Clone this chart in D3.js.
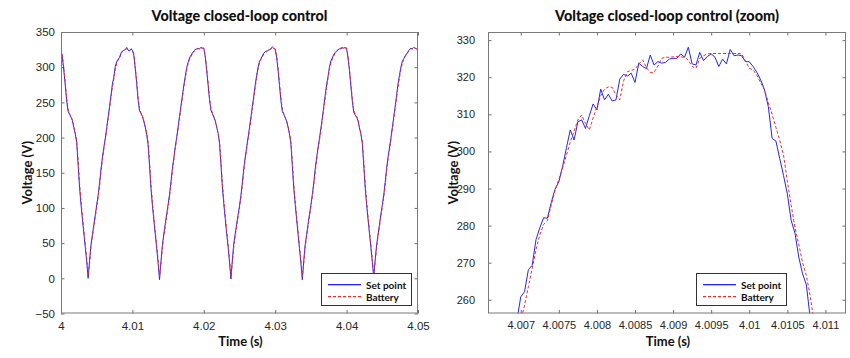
<!DOCTYPE html>
<html><head><meta charset="utf-8">
<script src="https://cdn.jsdelivr.net/npm/d3@7"></script>
<style>
html,body{margin:0;padding:0;background:#fff;}
svg{display:block;}
.tick text{font-family:"Liberation Sans",Arial,sans-serif;fill:#262626;}
.tick line{stroke:#6e6e6e;}
</style></head>
<body><svg id="c" width="850" height="358"></svg>
<script>
// ---------------- DATA ----------------
// Left chart: 4.000 s .. 4.050 s, one sample every 0.2 ms
const leftStart = 4.000, leftStep = 0.0002;
const leftSetPoint = [
 325,313,295,274,252,237,233,229,224,214,205,193,161,129,105,84,64,44,24,0,
 25,48,62,76,90,104,118,135,155,172,186,199,214,229,244,260,276,286,301,308,311,314,320,323,324,325,328,324,323,326,
 324,317,298,277,253,238,234,230,223,215,204,190,160,128,104,83,63,43,22,-2,
 24,47,63,77,91,105,119,137,156,171,187,200,215,230,245,259,274,287,299,307,313,317,320,323,325,326,327,326,328,327,
 327,315,296,275,254,239,234,229,224,215,206,192,162,130,106,85,64,45,23,-1,
 26,49,63,77,90,103,118,136,156,172,186,200,214,229,244,259,275,288,300,308,312,316,320,322,322,324,325,326,329,327,
 325,314,296,274,253,237,233,228,223,215,205,191,160,128,105,84,63,42,22,-2,
 25,48,62,77,91,104,119,136,155,171,186,199,213,228,244,260,275,287,300,309,313,318,321,323,325,326,327,328,327,328,
 327,313,295,273,252,236,232,229,224,214,205,192,161,129,105,84,64,44,23,2,
 26,47,62,76,91,104,118,136,156,172,185,199,214,229,244,260,276,288,300,308,312,316,319,322,325,327,326,328,327,326,
 328
];
const leftBattery = [
 326,316,298,278,256,240,234,230,225,216,207,196,167,135,110,88,68,48,28,4,
 21,44,59,73,87,101,115,131,151,168,183,196,211,226,241,256,272,283,297,305,310,313,318,322,324,325,326,325,324,326,
 325,319,301,280,257,241,235,231,224,216,206,194,166,134,109,87,67,47,27,2,
 20,43,60,74,88,102,116,133,152,168,184,197,212,227,242,256,271,284,296,305,311,315,319,322,324,326,326,326,327,327,
 327,318,299,279,257,242,235,230,225,216,207,195,167,136,110,89,68,49,27,3,
 22,45,60,74,87,100,115,132,152,169,183,197,211,226,241,256,271,285,297,306,311,314,319,322,323,324,325,326,327,327,
 326,317,299,278,256,240,234,229,224,216,206,194,166,134,110,88,67,46,26,2,
 21,44,59,74,88,101,116,132,151,168,183,196,210,225,241,256,271,284,297,306,311,316,320,322,324,326,326,327,327,327,
 327,316,298,277,255,239,233,230,225,215,206,195,167,135,110,88,68,48,27,5,
 22,43,59,73,88,101,115,132,152,169,182,196,211,226,241,256,272,285,297,305,311,315,318,321,324,326,326,327,327,326,
 327
];
// Right chart (zoom): 4.0069 s .. 4.01085 s, one sample every 0.05 ms
const zoomStart = 4.0069, zoomStep = 0.00005;
const zoomSetPoint = [
 249,254.5,260.8,262.2,268.1,269.3,276.2,279.4,282.1,282.0,
 286.2,289.8,291.8,296.0,301.0,305.8,303.1,308.0,308.5,306.2,
 309.6,312.8,311.2,316.8,313.9,315.4,313.6,313.9,319.5,320.8,
 320.3,321.1,318.6,323.8,322.9,322.3,326.0,323.3,324.2,323.8,
 324.0,324.9,325.1,325.1,326.3,325.4,328.1,323.6,323.3,326.7,
 324.5,325.6,326.3,325.4,322.9,324.9,323.6,327.5,325.8,326.0,
 325.8,324.2,324.2,322.9,321.3,319.3,316.6,312.1,303.5,302.8,
 298.1,293.5,288.5,281.4,278.0,271.5,267.0,264.0,255.0,248.0
];
const zoomBattery = [
 246,250.5,254.5,258.5,263.5,268.5,273.5,277.5,280.3,281.3,
 285.5,289.5,292.5,295.5,299.0,302.5,305.5,308.5,309.8,307.5,
 305.8,309.0,312.0,315.0,316.8,317.4,317.3,315.2,313.9,319.0,
 321.5,321.8,322.2,323.6,324.7,322.6,321.3,321.3,323.0,325.1,
 325.4,325.4,325.5,325.6,325.5,325.4,324.6,322.9,322.4,325.1,
 325.8,326.3,326.4,326.4,326.4,326.4,326.4,326.4,326.4,326.4,
 326.3,324.5,322.4,322.0,320.5,318.5,316.6,313.2,310.0,306.5,
 303.0,299.0,292.0,285.5,279.5,275.0,270.0,266.5,261.0,254.0
];
// Ticks
const leftXTicks = [4, 4.01, 4.02, 4.03, 4.04, 4.05];
const leftXLabels = ["4", "4.01", "4.02", "4.03", "4.04", "4.05"];
const leftYTicks = [-50, 0, 50, 100, 150, 200, 250, 300, 350];
const zoomXTicks = [4.007, 4.0075, 4.008, 4.0085, 4.009, 4.0095, 4.01, 4.0105, 4.011];
const zoomXLabels = ["4.007", "4.0075", "4.008", "4.0085", "4.009", "4.0095", "4.01", "4.0105", "4.011"];
const zoomYTicks = [260, 270, 280, 290, 300, 310, 320, 330];
const seriesNames = ["Set point", "Battery"];
const titles = ["Voltage closed-loop control", "Voltage closed-loop control (zoom)"];

// ---------------- DRAW ----------------
const svg = d3.select("#c");
const BLUE = "#2323ff", RED = "#f02a2a", BOX = "#7a7a7a";
const boldFont = "Lato, 'Open Sans', sans-serif";

function panel(opt) {
  const g = svg.append("g");
  const x = d3.scaleLinear().domain(opt.xDomain).range([opt.x0, opt.x1]);
  const y = d3.scaleLinear().domain(opt.yDomain).range([opt.y1, opt.y0]);
  const id = "clip" + opt.id;
  svg.append("clipPath").attr("id", id).append("rect")
    .attr("x", opt.x0).attr("y", opt.y0).attr("width", opt.x1 - opt.x0).attr("height", opt.y1 - opt.y0);

  const tl = 3.5;
  g.append("g").attr("transform", `translate(0,${opt.y1})`)
    .call(d3.axisBottom(x).tickValues(opt.xTicks).tickFormat((d, i) => opt.xLabels[i]).tickSizeInner(-tl).tickSizeOuter(0).tickPadding(8))
    .call(a => { a.select(".domain").remove(); a.selectAll("text").attr("font-size", opt.fs); });
  g.append("g").attr("transform", `translate(0,${opt.y0})`)
    .call(d3.axisTop(x).tickValues(opt.xTicks).tickFormat("").tickSizeInner(-tl).tickSizeOuter(0))
    .call(a => a.select(".domain").remove());
  g.append("g").attr("transform", `translate(${opt.x0},0)`)
    .call(d3.axisLeft(y).tickValues(opt.yTicks).tickFormat(d3.format("d")).tickSizeInner(-tl).tickSizeOuter(0).tickPadding(opt.ypad))
    .call(a => { a.select(".domain").remove(); a.selectAll("text").attr("font-size", opt.fs); });
  g.append("g").attr("transform", `translate(${opt.x1},0)`)
    .call(d3.axisRight(y).tickValues(opt.yTicks).tickFormat("").tickSizeInner(-tl).tickSizeOuter(0))
    .call(a => a.select(".domain").remove());

  const lineGen = (start, step) => d3.line().x((d, i) => x(start + i * step)).y(d => y(d));
  const lg = g.append("g").attr("clip-path", `url(#${id})`);
  lg.append("path").datum(opt.s1).attr("d", lineGen(opt.start, opt.step))
    .attr("fill", "none").attr("stroke", BLUE).attr("stroke-width", 1);
  lg.append("path").datum(opt.s2).attr("d", lineGen(opt.start, opt.step))
    .attr("fill", "none").attr("stroke", RED).attr("stroke-width", 1).attr("stroke-dasharray", "3,2");

  g.append("rect").attr("x", opt.x0 + 0.5).attr("y", opt.y0 + 0.5)
    .attr("width", opt.x1 - opt.x0 - 1).attr("height", opt.y1 - opt.y0 - 1)
    .attr("fill", "none").attr("stroke", BOX).attr("stroke-width", 1);

  g.append("text").attr("x", (opt.x0 + opt.x1) / 2).attr("y", 21)
    .attr("text-anchor", "middle").attr("font-family", boldFont).attr("font-weight", 900)
    .attr("font-size", 15).attr("fill", "#111").attr("textLength", opt.titleW).attr("lengthAdjust", "spacingAndGlyphs")
    .text(opt.title);
  g.append("text").attr("x", (opt.x0 + opt.x1) / 2 + 1).attr("y", 346)
    .attr("text-anchor", "middle").attr("font-family", boldFont).attr("font-weight", 700)
    .attr("font-size", 13).attr("fill", "#111").text("Time (s)");
  g.append("text").attr("transform", `translate(${opt.ylx},${(opt.y0 + opt.y1) / 2}) rotate(-90)`)
    .attr("text-anchor", "middle").attr("font-family", boldFont).attr("font-weight", 700)
    .attr("font-size", 13).attr("fill", "#111").text("Voltage (V)");

  const L = opt.legend;
  const lgd = g.append("g");
  lgd.append("rect").attr("x", L.x + 0.5).attr("y", L.y + 0.5).attr("width", L.w).attr("height", L.h)
    .attr("fill", "#fff").attr("stroke", "#333").attr("stroke-width", 1);
  const cols = [BLUE, RED];
  seriesNames.forEach((name, i) => {
    const cy = L.y + 11 + i * 12;
    lgd.append("rect").attr("x", L.x + 7).attr("y", cy).attr("width", 33).attr("height", 1.3)
      .attr("fill", i ? "none" : cols[i]);
    if (i) {
      lgd.append("line").attr("x1", L.x + 7).attr("x2", L.x + 40).attr("y1", cy + 0.65).attr("y2", cy + 0.65)
        .attr("stroke", cols[i]).attr("stroke-width", 1.3).attr("stroke-dasharray", "3,2");
    }
    lgd.append("text").attr("x", L.x + 45).attr("y", cy + 4.5)
      .attr("font-family", boldFont).attr("font-weight", 700).attr("font-size", 10).attr("fill", "#111").text(name);
  });
}

panel({
  id: "L", x0: 61, x1: 418, y0: 32, y1: 313.5,
  xDomain: [4.0, 4.05], yDomain: [-50, 350],
  xTicks: leftXTicks, xLabels: leftXLabels, yTicks: leftYTicks, fs: 11.5, ypad: 6,
  start: leftStart, step: leftStep, s1: leftSetPoint, s2: leftBattery,
  title: titles[0], titleW: 176, ylx: 32,
  legend: { x: 321, y: 273, w: 90, h: 32 }
});
panel({
  id: "R", x0: 488, x1: 846, y0: 32, y1: 313.5,
  xDomain: [4.00657, 4.01127], yDomain: [256.3, 332.2],
  xTicks: zoomXTicks, xLabels: zoomXLabels, yTicks: zoomYTicks, fs: 11, ypad: 13,
  start: zoomStart, step: zoomStep, s1: zoomSetPoint, s2: zoomBattery,
  title: titles[1], titleW: 224, ylx: 458,
  legend: { x: 696, y: 273, w: 90, h: 32 }
});
</script></body></html>
